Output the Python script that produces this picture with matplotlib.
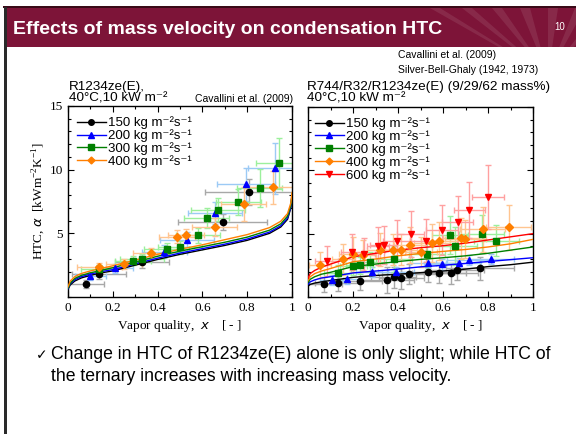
import matplotlib
matplotlib.use("Agg")
import matplotlib.pyplot as plt
from matplotlib.patches import Rectangle, Polygon
from matplotlib.ticker import MultipleLocator

SANS = ["Liberation Sans", "DejaVu Sans"]
SERIF = ["Liberation Serif", "DejaVu Serif"]

# ---------------- data: R1234ze(E) (left panel) ----------------
left_labels = ["150", "200", "300", "400"]
L150_x = [0.08, 0.14, 0.33, 0.69, 0.81]
L150_y = [1.0, 1.8, 2.75, 5.9, 8.25]
L150_xe = [0.08, 0.12, 0.12, 0.2, 0.2]
L150_ye = [0.3, 0.4, 0.5, 0.6, 1.0]

L200_x = [0.10, 0.21, 0.43, 0.53, 0.655, 0.795, 0.925]
L200_y = [1.65, 2.25, 3.55, 4.5, 6.6, 8.85, 10.1]
L200_xe = [0.07, 0.08, 0.1, 0.12, 0.12, 0.13, 0.12]
L200_ye = [0.3, 0.35, 0.5, 0.6, 0.9, 1.3, 2.0]

L300_x = [0.14, 0.29, 0.33, 0.44, 0.50, 0.58, 0.62, 0.67, 0.76, 0.855, 0.94]
L300_y = [2.2, 2.85, 3.0, 3.75, 3.9, 4.85, 6.2, 6.85, 7.45, 8.55, 10.5]
L300_xe = [0.08, 0.08, 0.1, 0.1, 0.1, 0.1, 0.1, 0.12, 0.1, 0.1, 0.1]
L300_ye = [0.3, 0.35, 0.4, 0.5, 0.5, 0.6, 0.8, 0.9, 1.0, 1.5, 2.0]

L400_x = [0.14, 0.25, 0.37, 0.485, 0.525, 0.655, 0.785, 0.915]
L400_y = [2.35, 2.6, 3.45, 4.75, 4.85, 5.5, 7.3, 8.6]
L400_xe = [0.1, 0.08, 0.08, 0.08, 0.08, 0.1, 0.1, 0.12]
L400_ye = [0.3, 0.4, 0.4, 0.5, 0.5, 0.7, 1.3, 1.3]

# Cavallini et al. (2009) curves
LC_x = [0, 0.01, 0.03, 0.06, 0.1, 0.15, 0.2, 0.3, 0.4, 0.5, 0.6, 0.7, 0.8, 0.9, 0.95, 0.98, 0.995, 1.0]
LC150 = [0.6, 0.95, 1.25, 1.5, 1.7, 1.9, 2.05, 2.5, 2.95, 3.35, 3.7, 4.05, 4.45, 5.0, 5.5, 6.1, 7.0, 8.0]
LC200 = [0.65, 1.05, 1.35, 1.6, 1.8, 2.0, 2.15, 2.6, 3.05, 3.45, 3.8, 4.15, 4.55, 5.1, 5.6, 6.2, 7.1, 8.05]
LC300 = [0.7, 1.1, 1.45, 1.7, 1.9, 2.1, 2.3, 2.75, 3.2, 3.6, 3.95, 4.3, 4.7, 5.25, 5.75, 6.35, 7.2, 8.1]
LC400 = [0.8, 1.25, 1.6, 1.85, 2.05, 2.25, 2.45, 2.9, 3.35, 3.75, 4.1, 4.5, 4.9, 5.45, 5.95, 6.55, 7.4, 8.2]

# ---------------- data: R744/R32/R1234ze(E) (right panel) ----------------
right_labels = ["150", "200", "300", "400", "600"]
R150_x = [0.073, 0.132, 0.229, 0.353, 0.38, 0.414, 0.447, 0.535, 0.58, 0.636, 0.661, 0.765]
R150_y = [1.0, 1.08, 1.29, 1.34, 1.55, 1.47, 1.81, 1.99, 1.91, 1.86, 2.13, 2.26]
R150_xe = [0.08, 0.1, 0.1, 0.12, 0.1, 0.1, 0.12, 0.12, 0.12, 0.12, 0.12, 0.15]
R150_ye = [0.6, 0.6, 0.7, 1.0, 0.8, 0.8, 0.8, 0.8, 0.8, 0.8, 0.8, 0.9]

R200_x = [0.105, 0.172, 0.285, 0.392, 0.535, 0.595, 0.67, 0.717, 0.815]
R200_y = [1.34, 1.44, 1.99, 1.99, 2.7, 2.57, 2.7, 2.91, 2.97]
R200_xe = [0.05, 0.06, 0.07, 0.08, 0.08, 0.08, 0.1, 0.1, 0.1]
R200_ye = [0.4, 0.4, 0.4, 0.4, 0.4, 0.4, 0.4, 0.4, 0.4]

R300_x = [0.132, 0.202, 0.229, 0.276, 0.384, 0.529, 0.633, 0.653, 0.772, 0.836]
R300_y = [1.91, 2.44, 2.49, 2.78, 2.99, 3.36, 4.88, 4.04, 4.96, 4.46]
R300_xe = [0.06, 0.06, 0.06, 0.07, 0.08, 0.08, 0.08, 0.1, 0.1, 0.1]
R300_ye = [0.6, 0.7, 0.7, 0.8, 1.0, 1.0, 1.5, 1.5, 1.5, 1.2]

R400_x = [0.053, 0.157, 0.199, 0.244, 0.321, 0.377, 0.413, 0.454, 0.503, 0.551, 0.584, 0.68, 0.699, 0.776, 0.892]
R400_y = [2.52, 2.97, 3.36, 3.31, 3.75, 3.75, 3.75, 4.09, 3.57, 4.23, 4.41, 4.62, 4.54, 5.33, 5.49]
R400_xe = [0.05, 0.05, 0.06, 0.06, 0.06, 0.06, 0.07, 0.07, 0.07, 0.08, 0.08, 0.08, 0.09, 0.1, 0.1]
R400_ye = [1.0, 1.2, 1.4, 1.2, 1.3, 1.2, 1.2, 1.4, 1.2, 1.5, 1.5, 1.6, 1.5, 1.8, 1.8]

R600_x = [0.083, 0.195, 0.247, 0.31, 0.337, 0.395, 0.457, 0.524, 0.595, 0.665, 0.717, 0.8]
R600_y = [2.83, 3.57, 3.39, 4.02, 4.09, 4.44, 4.96, 4.44, 5.28, 5.9, 6.85, 7.9]
R600_xe = [0.05, 0.05, 0.05, 0.05, 0.06, 0.06, 0.06, 0.07, 0.07, 0.07, 0.07, 0.07]
R600_ye = [1.2, 1.4, 1.3, 1.5, 1.5, 1.6, 1.8, 1.7, 2.0, 2.1, 2.2, 2.5]

# Silver-Bell-Ghaly curves
RC_x = [0, 0.01, 0.03, 0.06, 0.1, 0.2, 0.3, 0.4, 0.5, 0.6, 0.7, 0.8, 0.9, 1.0]
RC150 = [0.85, 1.0, 1.1, 1.2, 1.3, 1.55, 1.7, 1.8, 1.92, 2.05, 2.2, 2.4, 2.55, 2.75]
RC200 = [1.0, 1.2, 1.35, 1.5, 1.6, 1.9, 2.05, 2.2, 2.38, 2.5, 2.65, 2.8, 2.95, 3.1]
RC300 = [1.15, 1.4, 1.6, 1.8, 1.95, 2.4, 2.6, 2.8, 2.97, 3.1, 3.25, 3.45, 3.7, 3.95]
RC400 = [1.3, 1.6, 1.85, 2.05, 2.25, 2.78, 3.0, 3.25, 3.44, 3.6, 3.75, 3.95, 4.2, 4.55]
RC600 = [1.5, 1.85, 2.1, 2.35, 2.6, 3.17, 3.45, 3.7, 3.89, 4.05, 4.25, 4.5, 4.75, 5.0]

x_ticks = [0, 0.2, 0.4, 0.6, 0.8, 1]
x_ticklabels = ["0", "0.2", "0.4", "0.6", "0.8", "1"]
y_ticks = [5, 10, 15]

# ---------------- styles ----------------
W, H = 576, 434
mcol = {"150": "#000000", "200": "#0000ff", "300": "#007f00", "400": "#ff7f00", "600": "#ff0000"}
ecol = {"150": "#a8a8a8", "200": "#9ccaf5", "300": "#9cf09c", "400": "#ffc590", "600": "#ffa0a0"}
mark = {"150": "o", "200": "^", "300": "s", "400": "D", "600": "v"}
msz = {"150": 4.5, "200": 5, "300": 4.5, "400": 4, "600": 5}

fig = plt.figure(figsize=(W / 100, H / 100), dpi=100)
fig.patch.set_facecolor("white")

def fx(px):
    return px / W

def fy(py):
    return 1 - py / H

# slide title bar
fig.add_artist(Rectangle((fx(5), fy(47)), 1 - fx(5), fy(8) - fy(47), transform=fig.transFigure,
                         facecolor="#7d1438", edgecolor="none"))
fig.add_artist(Rectangle((fx(3), fy(8)), 1 - fx(3), fy(6.5) - fy(8), transform=fig.transFigure,
                         facecolor="#3a0a18", edgecolor="none"))
# faint decorative rays on the title bar
cx, cy = 548, 75
for xt in [430, 462, 492, 520, 548, 575, 600]:
    fig.add_artist(Polygon([(fx(xt), fy(8)), (fx(xt + 10), fy(8)), (fx(cx), fy(cy))],
                           closed=True, transform=fig.transFigure, facecolor="white",
                           alpha=0.09, edgecolor="none"))
fig.add_artist(Rectangle((fx(5), fy(75)), 1 - fx(5), fy(47) - fy(75), transform=fig.transFigure,
                         facecolor="white", edgecolor="none"))
fig.add_artist(Rectangle((fx(4), 0), fx(2.5), fy(7), transform=fig.transFigure,
                         facecolor="#2a2a2a", edgecolor="none"))
fig.text(fx(13), fy(29), "Effects of mass velocity on condensation HTC", color="white",
         fontsize=14, fontweight="bold", family=SANS, va="center", ha="left")
fig.text(fx(560), fy(27), "10", color="white", fontsize=7, family=SANS, va="center", ha="center")

fig.text(fx(398), fy(55), "Cavallini et al. (2009)", fontsize=7.5, family=SANS, va="center")
fig.text(fx(398), fy(70), "Silver-Bell-Ghaly (1942, 1973)", fontsize=7.5, family=SANS, va="center")


def make_axes(left, right, top, bottom):
    ax = fig.add_axes([fx(left), fy(bottom), fx(right - left), fy(top) - fy(bottom)])
    ax.set_xlim(0, 1)
    ax.set_ylim(0, 15)
    ax.set_xticks(x_ticks)
    ax.set_xticklabels(x_ticklabels)
    ax.xaxis.set_minor_locator(MultipleLocator(0.1))
    ax.set_yticks(y_ticks)
    ax.yaxis.set_minor_locator(MultipleLocator(1))
    ax.tick_params(which="both", direction="in", top=True, right=True, width=0.8)
    ax.tick_params(which="major", length=4, labelsize=9.5)
    ax.tick_params(which="minor", length=2.5)
    for lab in ax.get_xticklabels() + ax.get_yticklabels():
        lab.set_family(SERIF)
    for s in ax.spines.values():
        s.set_linewidth(1.0)
    ax.set_xlabel("Vapor quality,  $x$    [ - ]", family=SERIF, fontsize=9.5, labelpad=3)
    return ax


def plot_series(ax, key, xs, ys, xe, ye):
    ax.errorbar(xs, ys, xerr=xe, yerr=ye, fmt="none", ecolor=ecol[key], elinewidth=1.0,
                capsize=2.5, capthick=1.0, zorder=2)
    ax.plot(xs, ys, linestyle="none", marker=mark[key], ms=msz[key], color=mcol[key], zorder=4)


def legend(ax, keys, x0, y0):
    hs = []
    for k in keys:
        h, = ax.plot([], [], color=mcol[k], marker=mark[k], ms=msz[k] - 0.5, lw=1.0)
        hs.append(h)
    labs = [f"{k} kg m\u207b\u00b2s\u207b\u00b9" for k in keys]
    leg = ax.legend(hs, labs, loc="upper left", bbox_to_anchor=(x0, y0), frameon=False,
                    prop={"family": SANS, "size": 9.5}, handlelength=2.2, handletextpad=0.15,
                    labelspacing=0.0, borderaxespad=0, borderpad=0)
    return leg


# ---- left panel
axL = make_axes(68, 292, 106, 297)
for key, cyv in zip(left_labels, [LC150, LC200, LC300, LC400]):
    axL.plot(LC_x, cyv, color=mcol[key], lw=1.0, zorder=3)
plot_series(axL, "150", L150_x, L150_y, L150_xe, L150_ye)
plot_series(axL, "200", L200_x, L200_y, L200_xe, L200_ye)
plot_series(axL, "300", L300_x, L300_y, L300_xe, L300_ye)
plot_series(axL, "400", L400_x, L400_y, L400_xe, L400_ye)
legend(axL, left_labels, 0.04, 0.945)
axL.set_ylabel("HTC, $\\alpha$  [kWm$^{\\mathregular{-2}}$K$^{\\mathregular{-1}}$]", family=SERIF,
               fontsize=9.5, labelpad=2)
fig.text(fx(69), fy(93), "R1234ze(E),\n40°C,10 kW m\u207b\u00b2", fontsize=9.7,
         family=SANS, va="center", linespacing=0.9)
fig.text(fx(293), fy(99), "Cavallini et al. (2009)", fontsize=7.5, family=SANS, va="center", ha="right")

# ---- right panel
axR = make_axes(308, 533, 107, 297)
axR.set_yticklabels([])
for key, cyv in zip(right_labels, [RC150, RC200, RC300, RC400, RC600]):
    axR.plot(RC_x, cyv, color=mcol[key], lw=1.0, zorder=3)
plot_series(axR, "150", R150_x, R150_y, R150_xe, R150_ye)
plot_series(axR, "200", R200_x, R200_y, R200_xe, R200_ye)
plot_series(axR, "300", R300_x, R300_y, R300_xe, R300_ye)
plot_series(axR, "400", R400_x, R400_y, R400_xe, R400_ye)
plot_series(axR, "600", R600_x, R600_y, R600_xe, R600_ye)
legend(axR, right_labels, 0.03, 0.945)
fig.text(fx(307), fy(93), "R744/R32/R1234ze(E) (9/29/62 mass%)\n40°C,10 kW m\u207b\u00b2",
         fontsize=9.7, family=SANS, va="center", linespacing=0.9)

# ---- bullet text
fig.text(fx(36), fy(355), "\u2713", fontsize=10, family=["DejaVu Sans"], va="center")
fig.text(fx(51), fy(346), "Change in HTC of R1234ze(E) alone is only slight; while HTC of\n"
         "the ternary increases with increasing mass velocity.",
         fontsize=12.7, family=SANS, va="top", ha="left", linespacing=1.42)

fig.savefig("out.png", dpi=100, facecolor="white")
